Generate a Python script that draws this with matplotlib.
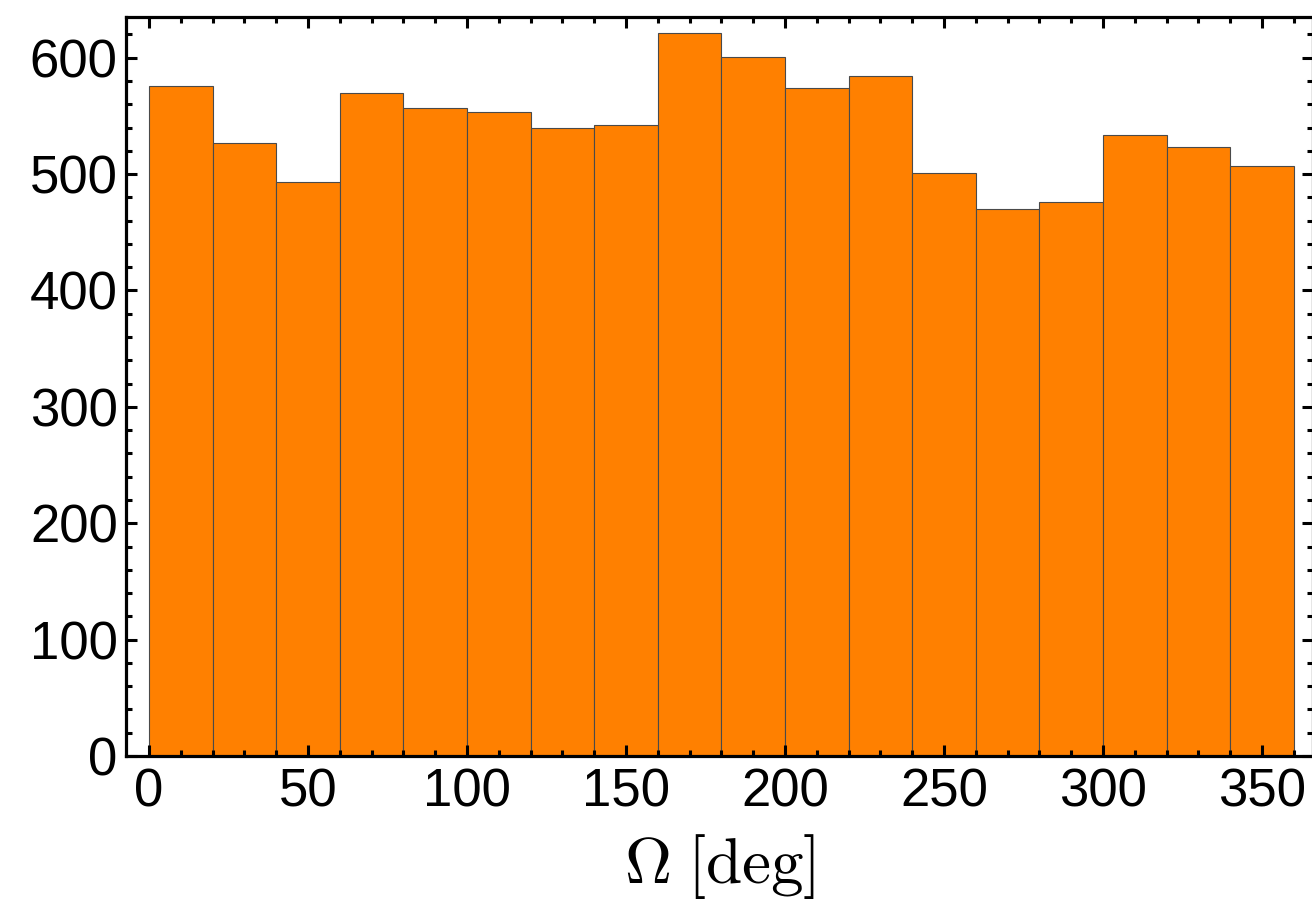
import matplotlib
matplotlib.use("Agg")
import matplotlib.pyplot as plt
from matplotlib.ticker import MultipleLocator

# histogram of node longitude, 20 deg bins
bin_edges = list(range(0, 361, 20))
counts = [576, 527, 493, 570, 557, 553, 540, 542, 621,
          601, 574, 584, 501, 470, 476, 534, 523, 507]

plt.rcParams['font.family'] = ['Liberation Sans', 'DejaVu Sans']
plt.rcParams['mathtext.fontset'] = 'cm'

fig = plt.figure(figsize=(13.12, 9.22), dpi=100)
ax = fig.add_axes([126/1312, 1 - 756/922, (1313 - 126)/1312, (756 - 17)/922])

lefts = bin_edges[:-1]
widths = [b - a for a, b in zip(bin_edges[:-1], bin_edges[1:])]
ax.bar(lefts, counts, width=widths, align='edge', color='#FF8000',
       edgecolor='#4a4a4a', linewidth=0.8)

ax.set_xlim(-7.2, 366)
ax.set_ylim(0, 635)

ax.xaxis.set_major_locator(MultipleLocator(50))
ax.xaxis.set_minor_locator(MultipleLocator(10))
ax.yaxis.set_major_locator(MultipleLocator(100))
ax.yaxis.set_minor_locator(MultipleLocator(20))

for s in ax.spines.values():
    s.set_linewidth(2.3)
ax.tick_params(which='both', direction='in', top=True, right=True, width=2.2)
ax.tick_params(which='major', length=8, labelsize=38)
ax.tick_params(axis='x', which='major', pad=8)
ax.tick_params(axis='y', which='major', pad=6)
ax.tick_params(which='minor', length=4.5)

ax.set_xlabel(r'$\Omega\;[\mathrm{deg}]$', fontsize=47, labelpad=11)

fig.savefig('out.png', dpi=100)
